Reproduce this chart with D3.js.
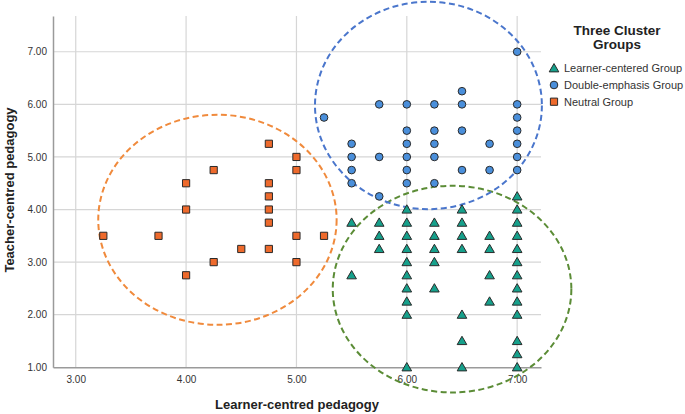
<!DOCTYPE html>
<html>
<head>
<meta charset="utf-8">
<script src="https://cdn.jsdelivr.net/npm/d3@7"></script>
<style>
html,body{margin:0;padding:0;background:#fff;}
svg{display:block;font-family:"Liberation Sans",Arial,sans-serif;}
</style>
</head>
<body>
<svg id="chart" width="685" height="414"></svg>
<script>
// ---- data ----
const groups = ["Learner-centered Group", "Double-emphasis Group", "Neutral Group"];
const xTicks = [3, 4, 5, 6, 7];
const yTicks = [1, 2, 3, 4, 5, 6, 7];

// Learner-centered Group (triangles): [learner, teacher]
const learnerX = [7.0, 6.0, 6.5, 7.0,
  5.5, 5.75, 6.0, 6.25, 6.5, 7.0,
  5.75, 6.0, 6.25, 6.5, 6.75, 7.0,
  5.75, 6.0, 6.25, 6.5, 6.75, 7.0,
  6.0, 6.25, 7.0,
  5.5, 6.0, 6.75, 7.0,
  6.0, 6.25, 7.0,
  6.0, 6.75, 7.0,
  6.0, 6.5, 7.0,
  6.5, 7.0,
  7.0,
  6.0, 6.5, 7.0];
const learnerY = [4.25, 4.0, 4.0, 4.0,
  3.75, 3.75, 3.75, 3.75, 3.75, 3.75,
  3.5, 3.5, 3.5, 3.5, 3.5, 3.5,
  3.25, 3.25, 3.25, 3.25, 3.25, 3.25,
  3.0, 3.0, 3.0,
  2.75, 2.75, 2.75, 2.75,
  2.5, 2.5, 2.5,
  2.25, 2.25, 2.25,
  2.0, 2.0, 2.0,
  1.5, 1.5,
  1.25,
  1.0, 1.0, 1.0];

// Double-emphasis Group (circles)
const doubleX = [7.0, 6.5, 5.25, 5.75, 6.0, 6.25, 6.5, 7.0, 7.0,
  6.0, 6.25, 6.5, 7.0,
  5.5, 6.0, 6.25, 6.75, 7.0,
  5.5, 5.75, 6.0, 6.25, 7.0,
  5.5, 6.0, 6.5, 6.75, 7.0,
  5.5, 6.0, 6.25,
  5.75];
const doubleY = [7.0, 6.25, 5.75, 6.0, 6.0, 6.0, 6.0, 6.0, 5.75,
  5.5, 5.5, 5.5, 5.5,
  5.25, 5.25, 5.25, 5.25, 5.25,
  5.0, 5.0, 5.0, 5.0, 5.0,
  4.75, 4.75, 4.75, 4.75, 4.75,
  4.5, 4.5, 4.5,
  4.25];

// Neutral Group (squares)
const neutralX = [4.75, 5.0, 4.25, 5.0, 4.0, 4.75, 4.75, 4.0, 4.75, 4.75,
  3.25, 3.75, 5.0, 5.25, 4.5, 4.75, 4.25, 5.0, 4.0];
const neutralY = [5.25, 5.0, 4.75, 4.75, 4.5, 4.5, 4.25, 4.0, 4.0, 3.75,
  3.5, 3.5, 3.5, 3.5, 3.25, 3.25, 3.0, 3.0, 2.75];

// cluster ellipses in data units: centre x, centre y, radius x, radius y
const ellipseCX = [6.41, 6.196, 4.284];
const ellipseCY = [2.487, 5.979, 3.805];
const ellipseRX = [1.081, 1.028, 1.080];
const ellipseRY = [1.965, 1.972, 1.997];

// ---- styles ----
const fillColors = ["#16A08B", "#4A8FDB", "#EE6A2C"];
const ellipseColors = ["#5B8C36", "#4A76CC", "#F08A3C"];

const svg = d3.select("#chart");
const x = d3.scaleLinear().domain([2.794, 7.216]).range([53, 541]);
const y = d3.scaleLinear().domain([1, 7.68]).range([367.3, 16]);

// gridlines
const grid = svg.append("g");
grid.selectAll("line.gx").data(xTicks).join("line")
  .attr("x1", d => x(d)).attr("x2", d => x(d))
  .attr("y1", y.range()[0]).attr("y2", y.range()[1])
  .attr("stroke", "#d6d6d6").attr("stroke-width", 1.2);
grid.selectAll("line.gy").data(yTicks.filter(d => d > 1)).join("line")
  .attr("x1", x.range()[0]).attr("x2", x.range()[1])
  .attr("y1", d => y(d)).attr("y2", d => y(d))
  .attr("stroke", "#d6d6d6").attr("stroke-width", 1.2);

// axes
const xAxis = svg.append("g").attr("transform", `translate(0,${y.range()[0]})`)
  .call(d3.axisBottom(x).tickValues(xTicks).tickFormat(d3.format(".2f")).tickSize(0).tickPadding(9));
const yAxis = svg.append("g").attr("transform", `translate(${x.range()[0]},0)`)
  .call(d3.axisLeft(y).tickValues(yTicks).tickFormat(d3.format(".2f")).tickSize(0).tickPadding(6));
[xAxis, yAxis].forEach(a => {
  a.select(".domain").attr("stroke", "#9a9a9a").attr("stroke-width", 1.5);
  a.selectAll("text").attr("font-size", 10).attr("fill", "#333")
    .attr("font-family", "'Liberation Sans', Arial, sans-serif");
});

// ellipses
svg.append("g").selectAll("ellipse").data(ellipseCX).join("ellipse")
  .attr("cx", (d, i) => x(ellipseCX[i]))
  .attr("cy", (d, i) => y(ellipseCY[i]))
  .attr("rx", (d, i) => x(ellipseRX[i]) - x(0))
  .attr("ry", (d, i) => y(0) - y(ellipseRY[i]))
  .attr("fill", "none")
  .attr("stroke", (d, i) => ellipseColors[i])
  .attr("stroke-width", 2)
  .attr("stroke-dasharray", "6,3.5");

// markers
const triPath = d3.symbol().type(d3.symbolTriangle).size(40)();
const circPath = d3.symbol().type(d3.symbolCircle).size(46)();
const sqPath = d3.symbol().type(d3.symbolSquare).size(52)();
const shapes = [triPath, circPath, sqPath];
const seriesX = [learnerX, doubleX, neutralX];
const seriesY = [learnerY, doubleY, neutralY];

const pts = svg.append("g");
[2, 1, 0].forEach(s => {
  pts.selectAll(null).data(seriesX[s]).join("path")
    .attr("d", shapes[s])
    .attr("transform", (d, i) => `translate(${x(seriesX[s][i])},${y(seriesY[s][i]) + (s === 0 ? 0.8 : 0)})`)
    .attr("fill", fillColors[s])
    .attr("stroke", "#2a2a2a")
    .attr("stroke-width", 1);
});

// axis titles
svg.append("text").attr("x", 297).attr("y", 409)
  .attr("text-anchor", "middle").attr("font-size", 13).attr("font-weight", "bold").attr("fill", "#222")
  .text("Learner-centred pedagogy");
svg.append("text").attr("transform", "translate(14,190) rotate(-90)")
  .attr("text-anchor", "middle").attr("font-size", 13).attr("font-weight", "bold").attr("fill", "#222")
  .text("Teacher-centred pedagogy");

// legend
const lg = svg.append("g");
lg.append("text").attr("x", 617).attr("y", 34.5).attr("text-anchor", "middle")
  .attr("font-size", 13.5).attr("font-weight", "bold").attr("fill", "#222").text("Three Cluster");
lg.append("text").attr("x", 617).attr("y", 49).attr("text-anchor", "middle")
  .attr("font-size", 13.5).attr("font-weight", "bold").attr("fill", "#222").text("Groups");
groups.forEach((g, i) => {
  const yy = 68.3 + i * 16.7;
  lg.append("path").attr("d", shapes[i])
    .attr("transform", `translate(554,${yy + (i === 0 ? 0.8 : 0)})`)
    .attr("fill", fillColors[i]).attr("stroke", "#2a2a2a").attr("stroke-width", 1);
  lg.append("text").attr("x", 564).attr("y", yy + 4).attr("font-size", 11).attr("fill", "#333").text(g);
});
</script>
</body>
</html>
